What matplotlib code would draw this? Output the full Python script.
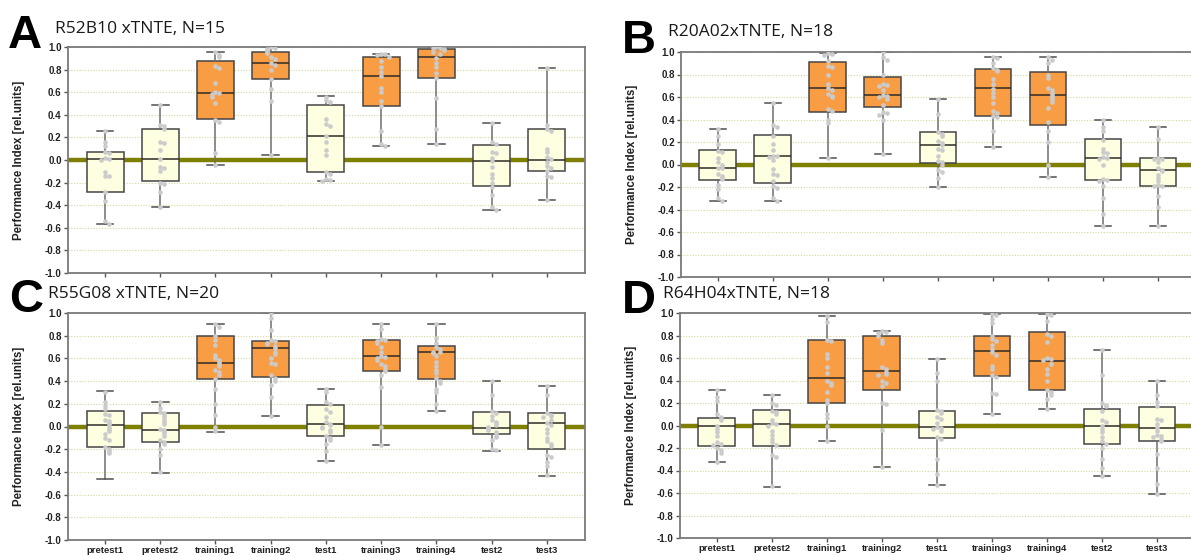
import numpy as np
import matplotlib.pyplot as plt

plt.rcParams['axes.unicode_minus'] = False

groups = ['pretest1', 'pretest2', 'training1', 'training2', 'test1',
          'training3', 'training4', 'test2', 'test3']
trained = [False, False, True, True, False, True, True, False, False]
y_ticks = [-1.0, -0.8, -0.6, -0.4, -0.2, 0.0, 0.2, 0.4, 0.6, 0.8, 1.0]
y_ticklabels = ['-1.0', '-0.8', '-0.6', '-0.4', '-0.2', '0.0', '0.2', '0.4', '0.6', '0.8', '1.0']

# --- panel A: R52B10 xTNTE, N=15 ---
a_low = [-0.57, -0.42, -0.04, 0.04, -0.19, 0.12, 0.14, -0.44, -0.35]
a_q1 = [-0.28, -0.19, 0.36, 0.72, -0.11, 0.48, 0.73, -0.23, -0.10]
a_med = [0.01, 0.01, 0.59, 0.86, 0.21, 0.74, 0.91, -0.01, 0.00]
a_q3 = [0.07, 0.27, 0.88, 0.96, 0.49, 0.91, 0.98, 0.13, 0.27]
a_high = [0.26, 0.49, 0.96, 1.00, 0.57, 0.94, 1.00, 0.33, 0.81]
a_pts = [
    [0.26, 0.16, 0.12, 0.07, 0.06, 0.02, 0.01, 0.0, -0.11, -0.14, -0.14, -0.28, -0.36, -0.54, -0.57],
    [0.49, 0.31, 0.30, 0.27, 0.16, 0.15, 0.09, 0.01, -0.06, -0.07, -0.10, -0.20, -0.21, -0.28, -0.42],
    [0.96, 0.93, 0.91, 0.83, 0.81, 0.68, 0.60, 0.59, 0.58, 0.56, 0.50, 0.35, 0.34, 0.06, -0.04],
    [1.0, 0.99, 0.98, 0.97, 0.96, 0.95, 0.91, 0.89, 0.86, 0.84, 0.80, 0.72, 0.63, 0.52, 0.04],
    [0.56, 0.53, 0.51, 0.36, 0.32, 0.30, 0.21, 0.16, 0.09, 0.04, -0.11, -0.12, -0.17, -0.18, -0.19],
    [0.94, 0.94, 0.93, 0.91, 0.88, 0.82, 0.78, 0.74, 0.64, 0.60, 0.52, 0.48, 0.26, 0.14, 0.12],
    [1.0, 0.99, 0.99, 0.98, 0.97, 0.96, 0.94, 0.90, 0.86, 0.82, 0.77, 0.73, 0.55, 0.27, 0.14],
    [0.33, 0.16, 0.14, 0.07, 0.06, 0.02, -0.01, -0.06, -0.12, -0.16, -0.20, -0.24, -0.31, -0.42, -0.44],
    [0.81, 0.31, 0.27, 0.26, 0.10, 0.07, 0.03, 0.01, -0.02, -0.05, -0.07, -0.10, -0.14, -0.15, -0.35],
]

# --- panel B: R20A02xTNTE, N=18 ---
b_low = [-0.32, -0.32, 0.06, 0.09, -0.20, 0.16, -0.11, -0.55, -0.55]
b_q1 = [-0.14, -0.16, 0.47, 0.51, 0.01, 0.43, 0.35, -0.14, -0.19]
b_med = [-0.03, 0.08, 0.68, 0.62, 0.17, 0.68, 0.62, 0.06, -0.05]
b_q3 = [0.13, 0.26, 0.91, 0.78, 0.29, 0.85, 0.82, 0.23, 0.06]
b_high = [0.32, 0.55, 0.99, 1.00, 0.58, 0.96, 0.96, 0.40, 0.33]
b_pts = [
    [0.32, 0.25, 0.18, 0.12, 0.11, 0.06, 0.02, 0.0, -0.03, -0.03, -0.08, -0.10, -0.12, -0.13, -0.18, -0.22, -0.30, -0.32],
    [0.55, 0.35, 0.33, 0.25, 0.18, 0.13, 0.08, 0.08, 0.07, 0.04, -0.04, -0.08, -0.09, -0.15, -0.19, -0.21, -0.30, -0.32],
    [0.99, 0.98, 0.97, 0.92, 0.88, 0.87, 0.80, 0.72, 0.68, 0.66, 0.63, 0.61, 0.60, 0.49, 0.48, 0.40, 0.37, 0.06],
    [1.0, 0.96, 0.93, 0.80, 0.72, 0.71, 0.70, 0.66, 0.62, 0.61, 0.60, 0.58, 0.53, 0.47, 0.46, 0.44, 0.40, 0.09],
    [0.58, 0.45, 0.29, 0.27, 0.25, 0.21, 0.19, 0.17, 0.14, 0.13, 0.08, 0.03, 0.02, 0.0, -0.05, -0.07, -0.12, -0.20],
    [0.96, 0.95, 0.90, 0.86, 0.84, 0.83, 0.76, 0.72, 0.67, 0.64, 0.60, 0.55, 0.48, 0.46, 0.43, 0.42, 0.30, 0.16],
    [0.96, 0.93, 0.90, 0.80, 0.77, 0.68, 0.66, 0.64, 0.62, 0.60, 0.58, 0.56, 0.50, 0.38, 0.30, 0.20, 0.0, -0.11],
    [0.40, 0.33, 0.30, 0.22, 0.14, 0.11, 0.10, 0.07, 0.06, 0.05, 0.0, -0.13, -0.14, -0.15, -0.19, -0.30, -0.44, -0.55],
    [0.33, 0.23, 0.06, 0.05, 0.05, 0.02, -0.03, -0.05, -0.06, -0.09, -0.12, -0.15, -0.18, -0.19, -0.19, -0.28, -0.38, -0.55],
]

# --- panel C: R55G08 xTNTE, N=20 ---
c_low = [-0.46, -0.41, -0.045, 0.09, -0.305, -0.165, 0.14, -0.215, -0.435]
c_q1 = [-0.18, -0.14, 0.42, 0.44, -0.08, 0.49, 0.42, -0.07, -0.20]
c_med = [0.01, -0.03, 0.56, 0.69, 0.02, 0.62, 0.66, -0.01, 0.03]
c_q3 = [0.14, 0.12, 0.80, 0.75, 0.19, 0.76, 0.71, 0.13, 0.12]
c_high = [0.31, 0.22, 0.90, 1.00, 0.33, 0.90, 0.90, 0.40, 0.36]
c_pts = [
    [0.30, 0.22, 0.18, 0.15, 0.11, 0.10, 0.06, 0.05, 0.03, 0.02, 0.0, -0.02, -0.04, -0.07, -0.10, -0.12, -0.18, -0.20, -0.22, -0.23],
    [0.22, 0.16, 0.13, 0.12, 0.10, 0.08, 0.06, 0.04, 0.02, -0.02, -0.03, -0.05, -0.06, -0.08, -0.12, -0.14, -0.15, -0.20, -0.25, -0.40],
    [0.90, 0.88, 0.80, 0.76, 0.72, 0.63, 0.60, 0.59, 0.57, 0.55, 0.53, 0.50, 0.48, 0.45, 0.42, 0.33, 0.20, 0.10, 0.0, -0.04],
    [1.0, 0.96, 0.85, 0.76, 0.75, 0.74, 0.73, 0.71, 0.69, 0.66, 0.64, 0.60, 0.56, 0.55, 0.45, 0.43, 0.40, 0.37, 0.26, 0.09],
    [0.33, 0.30, 0.22, 0.20, 0.15, 0.13, 0.08, 0.04, 0.02, 0.01, 0.0, -0.01, -0.03, -0.05, -0.08, -0.10, -0.12, -0.15, -0.22, -0.30],
    [0.90, 0.86, 0.77, 0.76, 0.75, 0.74, 0.70, 0.66, 0.62, 0.61, 0.60, 0.59, 0.55, 0.53, 0.51, 0.49, 0.45, 0.35, 0.0, -0.16],
    [0.90, 0.78, 0.74, 0.70, 0.68, 0.66, 0.66, 0.65, 0.62, 0.57, 0.53, 0.50, 0.47, 0.43, 0.40, 0.38, 0.33, 0.30, 0.20, 0.14],
    [0.40, 0.28, 0.14, 0.12, 0.09, 0.06, 0.04, 0.02, 0.01, 0.0, -0.01, -0.02, -0.03, -0.05, -0.06, -0.08, -0.09, -0.12, -0.20, -0.21],
    [0.36, 0.28, 0.12, 0.10, 0.09, 0.08, 0.06, 0.03, 0.01, -0.02, -0.06, -0.10, -0.13, -0.15, -0.17, -0.25, -0.27, -0.31, -0.35, -0.43],
]

# --- panel D: R64H04xTNTE, N=18 ---
d_low = [-0.32, -0.545, -0.14, -0.37, -0.53, 0.10, 0.15, -0.45, -0.61]
d_q1 = [-0.18, -0.18, 0.20, 0.32, -0.11, 0.44, 0.32, -0.16, -0.14]
d_med = [0.0, 0.015, 0.42, 0.485, -0.01, 0.66, 0.57, 0.0, -0.02]
d_q3 = [0.07, 0.14, 0.76, 0.795, 0.13, 0.795, 0.83, 0.15, 0.165]
d_high = [0.32, 0.27, 0.975, 0.84, 0.595, 0.99, 0.99, 0.67, 0.40]
d_pts = [
    [0.32, 0.25, 0.22, 0.10, 0.08, 0.06, 0.05, 0.0, -0.03, -0.06, -0.09, -0.15, -0.16, -0.17, -0.20, -0.22, -0.24, -0.32],
    [0.27, 0.20, 0.18, 0.13, 0.12, 0.10, 0.05, 0.02, 0.01, 0.0, -0.05, -0.08, -0.12, -0.15, -0.17, -0.26, -0.28, -0.54],
    [0.97, 0.92, 0.76, 0.75, 0.64, 0.60, 0.52, 0.47, 0.40, 0.38, 0.36, 0.30, 0.23, 0.20, 0.10, 0.07, 0.0, -0.14],
    [0.84, 0.83, 0.82, 0.80, 0.76, 0.73, 0.52, 0.50, 0.48, 0.46, 0.45, 0.40, 0.38, 0.35, 0.20, 0.19, -0.04, -0.37],
    [0.59, 0.47, 0.40, 0.14, 0.13, 0.11, 0.08, 0.06, 0.02, -0.01, -0.02, -0.03, -0.05, -0.10, -0.12, -0.30, -0.43, -0.53],
    [0.99, 0.98, 0.95, 0.91, 0.80, 0.77, 0.75, 0.72, 0.68, 0.65, 0.63, 0.53, 0.50, 0.45, 0.43, 0.29, 0.28, 0.10],
    [0.99, 0.98, 0.93, 0.81, 0.80, 0.74, 0.60, 0.59, 0.58, 0.55, 0.50, 0.46, 0.40, 0.32, 0.30, 0.27, 0.24, 0.15],
    [0.67, 0.45, 0.20, 0.18, 0.17, 0.13, 0.05, 0.03, 0.0, -0.03, -0.06, -0.10, -0.14, -0.16, -0.20, -0.30, -0.38, -0.45],
    [0.40, 0.27, 0.21, 0.17, 0.06, 0.05, 0.01, -0.02, -0.05, -0.08, -0.09, -0.10, -0.12, -0.14, -0.25, -0.38, -0.52, -0.61],
]

ORANGE = '#f99d45'
CREAM = '#fefee0'
OLIVE = '#7f7f00'
DOT = '#cbcbcb'

W, H = 1191, 556


def spread(values):
    # small sideways offsets for points of about the same value
    offs = [0.0, 0.07, -0.07, 0.14, -0.14, 0.21, -0.21]
    out = np.zeros(len(values))
    for i, v in enumerate(values):
        k = sum(1 for u in values[:i] if abs(u - v) < 0.03)
        out[i] = offs[k % len(offs)]
    return out


def draw_panel(rect, low, q1, med, q3, high, pts, letter, title, letter_xy, title_xy, xlabels):
    l, t, r, b = rect
    ax = fig.add_axes([l / W, 1 - b / H, (r - l) / W, (b - t) / H])
    pos = np.arange(1, len(groups) + 1)
    stats = []
    for i in range(len(groups)):
        stats.append(dict(whislo=low[i], q1=q1[i], med=med[i], q3=q3[i], whishi=high[i]))

    ax.axhline(0, color=OLIVE, lw=3.2, zorder=1.5)
    bp = ax.bxp(stats, positions=pos, widths=0.67, patch_artist=True, showfliers=False,
                capwidths=0.3,
                boxprops=dict(edgecolor='#454545', linewidth=1.1),
                medianprops=dict(color='#2e2a25', linewidth=1.1),
                whiskerprops=dict(color='#6e6e6e', linewidth=1.1),
                capprops=dict(color='#505050', linewidth=1.1))
    for patch, tr in zip(bp['boxes'], trained):
        patch.set_facecolor(ORANGE if tr else CREAM)
        patch.set_zorder(2)
    for m in bp['medians']:
        m.set_zorder(3)

    for i, vals in enumerate(pts):
        ax.scatter(pos[i] + spread(vals), vals, s=11, color=DOT, linewidths=0, zorder=4)

    ax.set_xlim(0.33, 9.69)
    ax.set_ylim(-1.0, 1.0)
    ax.set_yticks(y_ticks)
    ax.set_yticklabels(y_ticklabels, fontsize=7, fontweight='bold', family='Liberation Sans')
    ax.set_xticks(pos)
    if xlabels:
        ax.set_xticklabels(groups, fontsize=6.8, fontweight='bold', family='Liberation Sans')
    else:
        ax.set_xticklabels([])
    ax.yaxis.grid(True, linestyle=(0, (1, 1.5)), color='#d8d8a0', lw=0.8)
    ax.set_axisbelow(True)
    for s in ax.spines.values():
        s.set_color('#7a7a7a')
        s.set_linewidth(1.3)
    ax.tick_params(axis='both', colors='#555555', length=3, width=1, pad=1.5)
    ax.tick_params(axis='both', labelcolor='#222222')
    ax.set_ylabel('Performance Index [rel.units]', fontsize=8.3, fontweight='bold',
                  family='Liberation Sans', color='#222222')
    ax.yaxis.set_label_coords(-0.083, 0.5)

    fig.text(letter_xy[0] / W, 1 - letter_xy[1] / H, letter, fontsize=34, fontweight='bold',
             family='Liberation Sans', va='baseline', ha='left')
    fig.text(title_xy[0] / W, 1 - title_xy[1] / H, title, fontsize=12.5,
             family='Open Sans', va='baseline', ha='left', color='#1a1a1a')
    return ax


fig = plt.figure(figsize=(W / 100, H / 100), dpi=100)

draw_panel((68, 47, 585, 273), a_low, a_q1, a_med, a_q3, a_high, a_pts,
           'A', 'R52B10 xTNTE, N=15', (8, 48), (55, 33), False)
draw_panel((681, 52, 1196, 277), b_low, b_q1, b_med, b_q3, b_high, b_pts,
           'B', 'R20A02xTNTE, N=18', (622, 53), (668, 36), False)
draw_panel((68, 313, 585, 540), c_low, c_q1, c_med, c_q3, c_high, c_pts,
           'C', 'R55G08 xTNTE, N=20', (9, 312), (48, 298), True)
draw_panel((680, 313, 1195, 538), d_low, d_q1, d_med, d_q3, d_high, d_pts,
           'D', 'R64H04xTNTE, N=18', (622, 313), (663, 298), True)

fig.savefig('out.png', dpi=100)
